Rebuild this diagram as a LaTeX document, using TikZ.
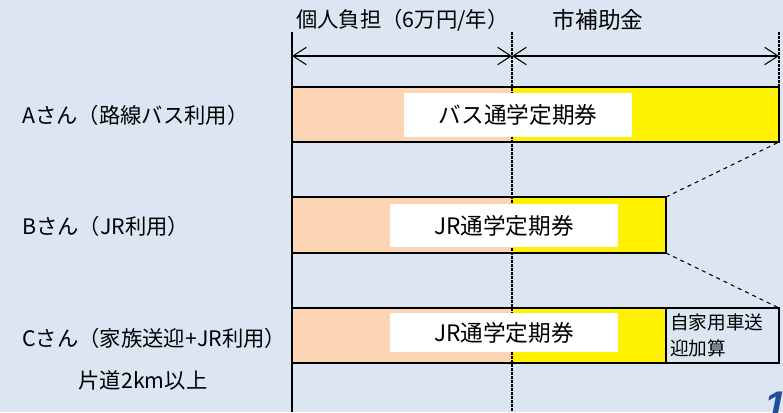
\documentclass[tikz,border=0pt]{standalone}
\usepackage{fontspec}
\setmainfont{Noto Sans CJK JP}
\newfontfamily\pagefont{Liberation Sans}
\usetikzlibrary{arrows.meta,positioning}
\definecolor{bg}{HTML}{DCE6F2}
\definecolor{peach}{HTML}{FCD5B5}
\definecolor{navy}{HTML}{1F4E9A}
\newcommand{\lbl}{\fontsize{16}{18}\selectfont}
\newcommand{\tagfont}{\fontsize{17}{19}\selectfont}

\begin{document}
\begin{tikzpicture}[x=0.75pt,y=-0.75pt,
  every node/.style={font=\lbl},
  barline/.style={draw=black,line width=1.5pt},
  tag/.style={fill=white,inner sep=0pt,minimum width=171pt,font=\tagfont},
  span/.style={{Straight Barb[length=10pt,width=13pt]}-{Straight Barb[length=10pt,width=13pt]},line width=0.8pt},
  mid/.style={line width=1.3pt,dash pattern=on 2pt off 1pt}
]
  \useasboundingbox[fill=bg] (0,0) rectangle (783,412);
  % corners
  \coordinate (top-l) at (292,32);
  \coordinate (top-m) at (512,32);
  \coordinate (top-r) at (779,32);
  \coordinate (bot-l) at (292,412);
  \coordinate (bot-m) at (512,412);
  \coordinate (A-nw) at (292,87);  \coordinate (A-se) at (779,142);
  \coordinate (B-nw) at (292,197); \coordinate (B-se) at (666,253);
  \coordinate (C-nw) at (292,308); \coordinate (C-se) at (666,363);
  \coordinate (C-ne) at (779,308); \coordinate (X-se) at (779,363);
  \coordinate (B-ne) at (666,197);
  % bars
  \fill[peach]  (A-nw) rectangle (512,142);
  \fill[yellow] (512,87) rectangle (A-se);
  \fill[peach]  (B-nw) rectangle (512,253);
  \fill[yellow] (512,197) rectangle (B-se);
  \fill[peach]  (C-nw) rectangle (512,363);
  \fill[yellow] (512,308) rectangle (C-se);
  \draw[barline] (A-nw) rectangle (A-se);
  \draw[barline] (B-nw) rectangle (B-se);
  \draw[barline] (C-nw) rectangle (C-se);
  \draw[barline] (C-se |- C-ne) rectangle (X-se);
  \draw[dashed,thick] (B-ne) -- (A-se);
  \draw[dashed,thick] (B-se) -- (C-ne);
  % guide lines
  \draw[line width=1.5pt] (top-l) -- (bot-l);
  \draw[mid] (top-m) -- (bot-m);
  \draw[mid] (top-r) -- (779,88);
  \coordinate (arr-l) at (292,56);
  \coordinate (arr-m) at (512,56);
  \coordinate (arr-r) at (779,56);
  \draw[span] (arr-l) -- (arr-m);
  \draw[span] (arr-m) -- (arr-r);
  % white tags
  \node[tag,minimum height=33pt] (tagA) at (518,114.5) {バス通学定期券};
  \node[tag,minimum height=32pt] (tagB) at (504,225.5) {JR通学定期券};
  \node[tag,minimum height=29pt] (tagC) at (504,332.5) {JR通学定期券};
  \node[align=left,anchor=west,inner sep=0pt,font=\fontsize{14}{20}\selectfont] (extra) at (670,335.5) {自家用車送\\迎加算};
  % headers
  \node[anchor=west,inner sep=0pt,font=\fontsize{16}{18}\selectfont] (own) at (296,20) {個人負担（6万円/年）};
  \node[inner sep=0pt,font=\fontsize{17}{19}\selectfont] (city) at (598,20) {市補助金};
  % rows
  \node[anchor=west,inner sep=0pt] (rowA) at (22,115) {Aさん（路線バス利用）};
  \node[anchor=west,inner sep=0pt] (rowB) at (22,226) {Bさん（JR利用）};
  \node[anchor=west,inner sep=0pt] (rowC) at (22,338) {Cさん（家族送迎+JR利用）};
  \node[inner sep=0pt] (dist) at (143,380) {片道2km以上};
  \node[anchor=north west,inner sep=0pt,text=navy,font=\pagefont\fontsize{30}{30}\bfseries\itshape] (page) at (764,392) {1};
\end{tikzpicture}
\end{document}
